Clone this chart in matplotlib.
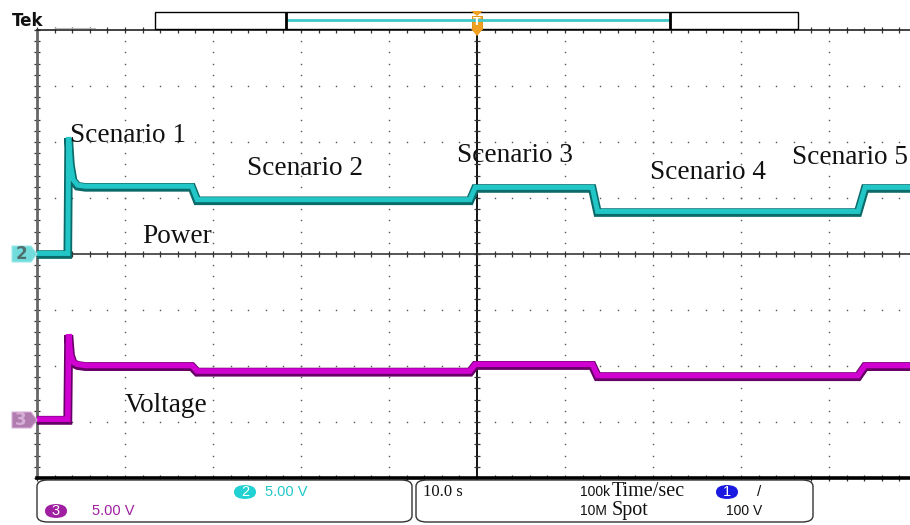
import matplotlib
matplotlib.use("Agg")
import matplotlib.pyplot as plt
from matplotlib.patches import FancyBboxPatch, Polygon, Rectangle
import numpy as np

# trace data, time in s (10 s/div), amplitude in V (5 V/div)
power_t = [0, 3.5, 3.6, 3.8, 4.1, 4.6, 5.5, 17.6, 18.2, 49.2, 49.8, 63.1, 63.7, 93.3, 94.1, 100]
power_v = [0, 0, 10.4, 8.0, 6.6, 6.1, 6.0, 6.0, 4.8, 4.8, 5.9, 5.9, 3.75, 3.75, 5.9, 5.9]
voltage_t = [0, 3.5, 3.6, 3.8, 4.1, 4.6, 5.5, 17.6, 18.2, 49.2, 49.8, 63.1, 63.7, 93.3, 94.1, 100]
voltage_v = [0, 0, 7.6, 5.8, 5.1, 4.9, 4.8, 4.8, 4.3, 4.3, 4.9, 4.9, 3.9, 3.9, 4.8, 4.8]

volts_per_div = 5.0
ch2_offset = 0.0      # divisions
ch3_offset = -2.96

scenario_labels = ["Scenario 1", "Scenario 2", "Scenario 3", "Scenario 4", "Scenario 5"]
scenario_x = [3.75, 23.9, 47.7, 69.7, 85.8]
scenario_y = [2.12, 1.52, 1.75, 1.45, 1.73]

W, H = 910, 525
fig = plt.figure(figsize=(W / 100, H / 100), dpi=100)
fig.patch.set_facecolor("white")

def fx(x):
    return x / W

def fy(y):
    return 1 - y / H

ax = fig.add_axes([fx(37), fy(478), 880 / W, 448 / H])
ax.set_xlim(0, 100)
ax.set_ylim(-4, 4)
ax.axis("off")

# graticule dots
for gx in range(10, 100, 10):
    if gx == 50:
        continue
    yy = np.arange(-4, 4.01, 0.2)
    ax.plot(np.full_like(yy, gx), yy, ls="none", marker="s", ms=1.0, color="#555555", mew=0)
for gy in range(-3, 4):
    if gy == 0:
        continue
    xx = np.arange(0, 100.1, 2)
    ax.plot(xx, np.full_like(xx, gy), ls="none", marker="s", ms=1.0, color="#555555", mew=0)

# centre lines with minor ticks
ax.axhline(0, color="#555555", lw=1.4, zorder=2)
ax.axvline(50, color="black", lw=1.3, zorder=2)
xt = np.arange(0, 100.1, 2)
yt = np.arange(-4, 4.01, 0.2)
ax.plot(xt, np.zeros_like(xt), ls="none", marker="|", ms=5, mew=0.9, color="#333333")
ax.plot(np.full_like(yt, 50), yt, ls="none", marker="_", ms=5, mew=0.9, color="#333333")
# edge ticks
ax.plot(xt, np.full_like(xt, 4), ls="none", marker="|", ms=5, mew=0.9, color="#333333", clip_on=False)
ax.plot(xt, np.full_like(xt, -4), ls="none", marker="|", ms=5, mew=0.9, color="#333333", clip_on=False)
ax.plot(np.zeros_like(yt), yt, ls="none", marker="_", ms=5, mew=0.9, color="#333333", clip_on=False)
# border
ax.plot([0, 0], [-4, 4], color="#666666", lw=2.0, clip_on=False, zorder=3)
ax.plot([0, 100], [4, 4], color="#222222", lw=1.2, clip_on=False, zorder=3)
ax.plot([0, 100], [-4, -4], color="black", lw=2.6, clip_on=False, zorder=3)

# traces
p = np.array(power_v) / volts_per_div + ch2_offset
v = np.array(voltage_v) / volts_per_div + ch3_offset
ax.plot(power_t, p - 0.01, color="#0b6a6a", lw=6.2, zorder=4, solid_joinstyle="miter")
ax.plot(power_t, p + 0.01, color="#22c6c6", lw=3.6, zorder=5, solid_joinstyle="miter")
ax.plot(voltage_t, v - 0.01, color="#660066", lw=6.4, zorder=4, solid_joinstyle="miter")
ax.plot(voltage_t, v + 0.01, color="#d000d0", lw=4.0, zorder=5, solid_joinstyle="miter")

# labels
for lab, x, y in zip(scenario_labels, scenario_x, scenario_y):
    ax.text(x, y, lab, fontsize=19.6, family="Liberation Serif", va="center", ha="left",
            color="#111111", zorder=6, clip_on=False)
ax.text(12.0, 0.32, "Power", fontsize=19.6, family="Liberation Serif", va="center", ha="left", color="#111111", zorder=6)
ax.text(10.0, -2.7, "Voltage", fontsize=19.6, family="Liberation Serif", va="center", ha="left", color="#111111", zorder=6)

# channel ground markers
fig.patches.append(Polygon([[fx(12), fy(246)], [fx(31), fy(246)], [fx(37), fy(254)], [fx(31), fy(262)], [fx(12), fy(262)]],
                           closed=True, transform=fig.transFigure, facecolor="#72dcdc", edgecolor="#9ee8e8", lw=0.8))
fig.text(fx(21), fy(254), "2", fontsize=12, ha="center", va="center", color="#4f6f6f", fontweight="bold")
fig.patches.append(Polygon([[fx(12), fy(412)], [fx(31), fy(412)], [fx(37), fy(420)], [fx(31), fy(428)], [fx(12), fy(428)]],
                           closed=True, transform=fig.transFigure, facecolor="#b07cb0", edgecolor="#d8b0d8", lw=0.8))
fig.text(fx(21), fy(420), "3", fontsize=12, ha="center", va="center", color="#d6b0d6", fontweight="bold")

# top bar
fig.text(fx(12), fy(21), "Tek", fontsize=12, fontweight="bold", ha="left", va="center", color="#111111")
fig.lines.append(plt.Line2D([fx(55), fx(95)], [fy(28), fy(28)], transform=fig.transFigure, color="#bbbbbb", lw=0.8))
fig.patches.append(Rectangle((fx(155), fy(29)), (798 - 155) / W, 17 / H, transform=fig.transFigure,
                             facecolor="white", edgecolor="black", lw=1.0))
fig.lines.append(plt.Line2D([fx(287), fx(669)], [fy(20), fy(20)], transform=fig.transFigure, color="#40c8c8", lw=2.0))
for bx in (286, 670):
    fig.lines.append(plt.Line2D([fx(bx), fx(bx)], [fy(13), fy(28)], transform=fig.transFigure, color="black", lw=2.0))
fig.patches.append(Polygon([[fx(471), fy(11)], [fx(483), fy(11)], [fx(477), fy(16)]], closed=True,
                           transform=fig.transFigure, facecolor="#f0a020", edgecolor="none"))
fig.patches.append(Rectangle((fx(472), fy(29)), 10 / W, 13 / H, transform=fig.transFigure,
                             facecolor="#f0a020", edgecolor="#e08a00", lw=0.6))
fig.patches.append(Polygon([[fx(471), fy(29)], [fx(483), fy(29)], [fx(477), fy(36)]], closed=True,
                           transform=fig.transFigure, facecolor="#f0a020", edgecolor="none"))
fig.text(fx(477), fy(22), "T", fontsize=8, ha="center", va="center", color="white", fontweight="bold")

# bottom readout boxes
for x0, x1 in ((37, 412), (416, 813)):
    fig.patches.append(FancyBboxPatch((fx(x0), fy(522)), (x1 - x0) / W, 42 / H, transform=fig.transFigure,
                                      boxstyle="round,pad=0,rounding_size=0.012", facecolor="white",
                                      edgecolor="#333333", lw=1.0))

narrow = "Liberation Sans"

def badge(x, y, num, col):
    fig.patches.append(FancyBboxPatch((fx(x - 11), fy(y + 7)), 22 / W, 14 / H, transform=fig.transFigure,
                                      boxstyle="round,pad=0,rounding_size=0.013", facecolor=col, edgecolor="none"))
    fig.text(fx(x), fy(y), num, fontsize=10.5, ha="center", va="center", color="white", family=narrow)

badge(245, 492, "2", "#22d2d2")
fig.text(fx(265), fy(492), "5.00 V", fontsize=10.5, ha="left", va="center", color="#22c8c8", family=narrow)
badge(56, 511, "3", "#a01ea0")
fig.text(fx(92), fy(511), "5.00 V", fontsize=10.5, ha="left", va="center", color="#a01ea0", family=narrow)

fig.text(fx(423), fy(492), "10.0 s", fontsize=12, ha="left", va="center", color="#111111", family="Liberation Serif")
fig.text(fx(580), fy(492), "100k", fontsize=10, ha="left", va="center", color="#111111", family=narrow)
fig.text(fx(612), fy(492), "Time/sec", fontsize=14.5, ha="left", va="center", color="#111111", family="Liberation Serif")
badge(727, 492, "1", "#1a1ae0")
fig.text(fx(757), fy(492), "/", fontsize=11, ha="left", va="center", color="#111111", family=narrow)
fig.text(fx(580), fy(511), "10M", fontsize=10, ha="left", va="center", color="#111111", family=narrow)
fig.text(fx(612), fy(511), "Spot", fontsize=14.5, ha="left", va="center", color="#111111", family="Liberation Serif")
fig.text(fx(726), fy(511), "100 V", fontsize=10, ha="left", va="center", color="#111111", family=narrow)

fig.savefig("out.png", dpi=100)
